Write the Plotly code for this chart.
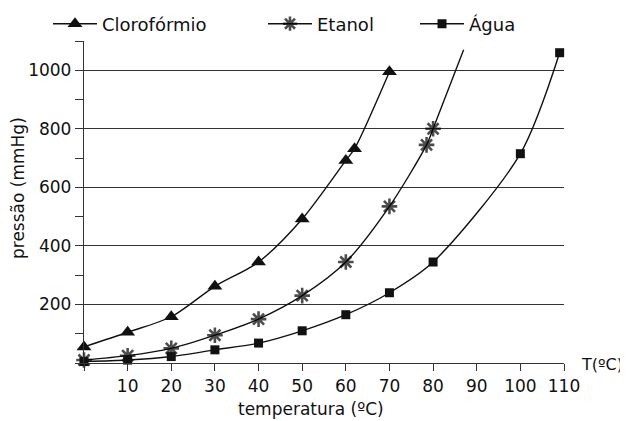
import plotly.graph_objects as go

# ---- data ----
cloro_t = [0, 10, 20, 30, 40, 50, 60, 62, 70]
cloro_p = [55, 105, 158, 262, 345, 492, 692, 732, 995]

etanol_t = [0, 10, 20, 30, 40, 50, 60, 70, 78.5, 80]
etanol_p = [10, 25, 50, 95, 150, 230, 345, 535, 745, 800]
etanol_curve_end_t = [87]
etanol_curve_end_p = [1070]

agua_t = [0, 10, 20, 30, 40, 50, 60, 70, 80, 100, 109]
agua_p = [5, 10, 22, 45, 68, 110, 165, 240, 345, 715, 1060]

x_tick_vals = [10, 20, 30, 40, 50, 60, 70, 80, 90, 100, 110]
x_grid_vals = [20, 40, 60, 80, 100]
y_tick_vals = [200, 400, 600, 800, 1000]

FONT = "DejaVu Sans"
INK = "#111111"
GRID = "#333333"

# The page body adds an 8px offset; the figure is sized to fit the window.
W, H = 620, 413
L, T, PW, PH = 76, 33, 480, 322
OFF = 8


def px_x(ax):  # absolute window pixel -> paper x
    return (ax - OFF - L) / PW


def px_y(ay):  # absolute window pixel -> paper y
    return (OFF + T + PH - ay) / PH


fig = go.Figure()

common_line = dict(color=INK, width=1.4, shape="spline", smoothing=0.8)

# Clorofórmio
fig.add_trace(go.Scatter(
    x=cloro_t, y=cloro_p, mode="lines+markers", name="Clorofórmio",
    line=common_line,
    marker=dict(symbol="triangle-up", size=13, color=INK),
    legend="legend", cliponaxis=False,
))

# Etanol (curve continues past the last marker)
et_x = etanol_t + etanol_curve_end_t
et_y = etanol_p + etanol_curve_end_p
et_sizes = [13] * len(etanol_t) + [0] * len(etanol_curve_end_t)
fig.add_trace(go.Scatter(
    x=et_x, y=et_y, mode="lines+markers", name="Etanol",
    line=common_line,
    marker=dict(symbol="asterisk-open", size=et_sizes, color="#000000",
                line=dict(color="#000000", width=2.6)),
    legend="legend2", cliponaxis=False,
))

# Água
fig.add_trace(go.Scatter(
    x=agua_t, y=agua_p, mode="lines+markers", name="Água",
    line=common_line,
    marker=dict(symbol="square", size=9, color=INK),
    legend="legend3", cliponaxis=False,
))

axis_font = dict(family=FONT, size=17, color=INK)
leg_font = dict(family=FONT, size=18, color=INK)
LEG_Y = px_y(24)

fig.update_layout(
    width=W, height=H,
    showlegend=True,
    margin=dict(l=L, r=W - L - PW, t=T, b=H - T - PH, pad=0, autoexpand=False),
    paper_bgcolor="white", plot_bgcolor="white",
    font=dict(family=FONT, size=17, color=INK),
    xaxis=dict(
        range=[0, 110], tickmode="array", tickvals=x_tick_vals,
        ticks="outside", ticklen=7, tickwidth=1.4, tickcolor=GRID,
        showgrid=False, zeroline=False,
        showline=True, linecolor=GRID, linewidth=1.4,
        tickfont=axis_font,
        minor=dict(dtick=10, tick0=0, ticks="outside", ticklen=7,
                   tickwidth=1.4, tickcolor=GRID, showgrid=False),
    ),
    xaxis2=dict(
        range=[0, 110], overlaying="x", side="bottom",
        tickmode="array", tickvals=x_grid_vals, showticklabels=False,
        ticks="", showgrid=True, gridcolor=GRID, gridwidth=1.4,
        zeroline=False, showline=False,
    ),
    yaxis=dict(
        range=[0, 1100], tickmode="array", tickvals=y_tick_vals,
        ticks="outside", ticklen=8, tickwidth=1.4, tickcolor=GRID,
        showgrid=True, gridcolor=GRID, gridwidth=1.4,
        zeroline=False, showline=True, linecolor=GRID, linewidth=1.4,
        tickfont=axis_font,
        minor=dict(dtick=100, tick0=0, ticks="outside", ticklen=8,
                   tickwidth=1.4, tickcolor=GRID, showgrid=False),
    ),
    legend=dict(orientation="h", x=px_x(48), y=LEG_Y, xanchor="left",
                yanchor="middle", font=leg_font, visible=True,
                bgcolor="rgba(0,0,0,0)", itemwidth=44),
    legend2=dict(orientation="h", x=px_x(263), y=LEG_Y, xanchor="left",
                 yanchor="middle", font=leg_font, visible=True,
                 bgcolor="rgba(0,0,0,0)", itemwidth=44),
    legend3=dict(orientation="h", x=px_x(415), y=LEG_Y, xanchor="left",
                 yanchor="middle", font=leg_font, visible=True,
                 bgcolor="rgba(0,0,0,0)", itemwidth=44),
    annotations=[
        dict(text="pressão (mmHg)", xref="paper", yref="paper",
             x=px_x(18), y=px_y(188), textangle=-90,
             showarrow=False, xanchor="center", yanchor="middle",
             font=dict(family=FONT, size=17, color=INK)),
        dict(text="temperatura (ºC)", xref="paper", yref="paper",
             x=px_x(311), y=px_y(409),
             showarrow=False, xanchor="center", yanchor="middle",
             font=dict(family=FONT, size=17, color=INK)),
        dict(text="T(ºC)", xref="paper", yref="paper",
             x=px_x(625), y=px_y(365),
             showarrow=False, xanchor="right", yanchor="middle",
             font=dict(family=FONT, size=16, color=INK)),
    ],
)

fig.write_html("out.html")
